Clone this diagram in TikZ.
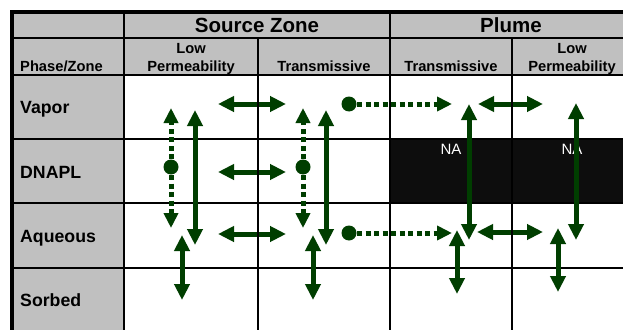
\documentclass[tikz,border=0pt]{standalone}
\usepackage{fontspec}
\setmainfont{Liberation Sans}
\usetikzlibrary{arrows.meta}
\definecolor{arrowgreen}{RGB}{0,62,0}
\definecolor{cellgray}{RGB}{192,192,192}
\definecolor{nablack}{RGB}{13,13,13}
\tikzset{
  gridline/.style={line width=2.4pt, black},
  borderline/.style={line width=4pt, black},
  dbl/.style={line width=5pt, arrowgreen, {Triangle[length=16pt,width=15pt]}-{Triangle[length=16pt,width=15pt]}},
  dots/.style={line width=5pt, arrowgreen, dash pattern=on 5pt off 3.5pt, -{Triangle[length=15pt,width=14pt]}},
  blob/.style={circle, fill=arrowgreen, inner sep=0pt, minimum size=15pt},
  hdrA/.style={font=\bfseries\fontsize{20.5}{24}\selectfont, anchor=base, inner sep=0pt},
  hdrB/.style={font=\bfseries\fontsize{14.7}{18}\selectfont, anchor=base, inner sep=0pt},
  rowlab/.style={font=\bfseries\fontsize{17.7}{21}\selectfont, anchor=base west, inner sep=0pt},
  natext/.style={font=\fontsize{15}{18}\selectfont, text=white, anchor=base, inner sep=0pt}
}
\begin{document}
\begin{tikzpicture}[x=1pt,y=-1pt]
\useasboundingbox (0,0) rectangle (623,329);
\fill[white] (0,0) rectangle (623,329);
% fills
\fill[cellgray] (12,12) rectangle (632,75);
\fill[cellgray] (12,75) rectangle (124,335);
\fill[nablack] (390,139) rectangle (632,203);
% horizontal grid lines
\foreach \yy in {38,75,139,203,268} \draw[gridline] (12,\yy) -- (632,\yy);
% texts
\node[hdrA] (tsource) at (257,33) {Source Zone};
\node[hdrA] (tplume) at (511,33) {Plume};
\node[hdrB] (tlow1) at (191,53) {Low};
\node[hdrB] (tperm1) at (191,71) {Permeability};
\node[hdrB] (ttrans1) at (324,71) {Transmissive};
\node[hdrB] (ttrans2) at (451,71) {Transmissive};
\node[hdrB] (tlow2) at (572,53) {Low};
\node[hdrB] (tperm2) at (572,71) {Permeability};
\node[font=\bfseries\fontsize{14.7}{18}\selectfont, anchor=base west, inner sep=0pt] (tphase) at (20,71) {Phase/Zone};
\node[rowlab] (rvapor) at (20,113) {Vapor};
\node[rowlab] (rdnapl) at (20,178) {DNAPL};
\node[rowlab] (raq) at (20,242) {Aqueous};
\node[rowlab] (rsorb) at (20,306) {Sorbed};
\node[natext] (na1) at (451,154) {NA};
\node[natext] (na2) at (572,154) {NA};
% coordinates for arrow ends
\coordinate (h1a) at (218,104); \coordinate (h1b) at (286,104);
\coordinate (h2a) at (218,172); \coordinate (h2b) at (286,172);
\coordinate (h3a) at (218,234); \coordinate (h3b) at (286,234);
\coordinate (h4a) at (478,104); \coordinate (h4b) at (543,104);
\coordinate (h5a) at (477,232); \coordinate (h5b) at (543,232);
\coordinate (v1a) at (195,110); \coordinate (v1b) at (195,245);
\coordinate (v2a) at (326,110); \coordinate (v2b) at (326,245);
\coordinate (v3a) at (469,104); \coordinate (v3b) at (469,240);
\coordinate (v4a) at (576,103); \coordinate (v4b) at (576,240);
\coordinate (s1a) at (182,235); \coordinate (s1b) at (182,300);
\coordinate (s2a) at (313,235); \coordinate (s2b) at (313,300);
\coordinate (s3a) at (457,230); \coordinate (s3b) at (457,294);
\coordinate (s4a) at (558,228); \coordinate (s4b) at (558,292);
\coordinate (d1up) at (171,108); \coordinate (d1dn) at (171,228);
\coordinate (d2up) at (303,108); \coordinate (d2dn) at (303,228);
\coordinate (dv) at (452,104); \coordinate (da) at (452,233);
% blobs
\node[blob] (c1) at (171,167) {};
\node[blob] (c2) at (303,167) {};
\node[blob] (c3) at (349,104) {};
\node[blob] (c4) at (349,233) {};
% arrows
\foreach \p in {h1,h2,h3,h4,h5,v1,v2,v3,v4,s1,s2,s3,s4}
  \draw[dbl] (\p a) -- (\p b);
\draw[dots] (c1.center) ++(0,-8) -- (d1up);
\draw[dots] (c1.center) ++(0,8) -- (d1dn);
\draw[dots] (c2.center) ++(0,-8) -- (d2up);
\draw[dots] (c2.center) ++(0,8) -- (d2dn);
\draw[dots] (c3.center) ++(8,0) -- (dv);
\draw[dots] (c4.center) ++(8,0) -- (da);
% vertical grid lines
\draw[gridline] (124,12) -- (124,335);
\draw[gridline] (258,38) -- (258,335);
\draw[gridline] (390,12) -- (390,335);
\draw[gridline] (512,38) -- (512,335);
% outer border
\draw[borderline] (12,335) -- (12,12) -- (632,12);
\end{tikzpicture}
\end{document}
